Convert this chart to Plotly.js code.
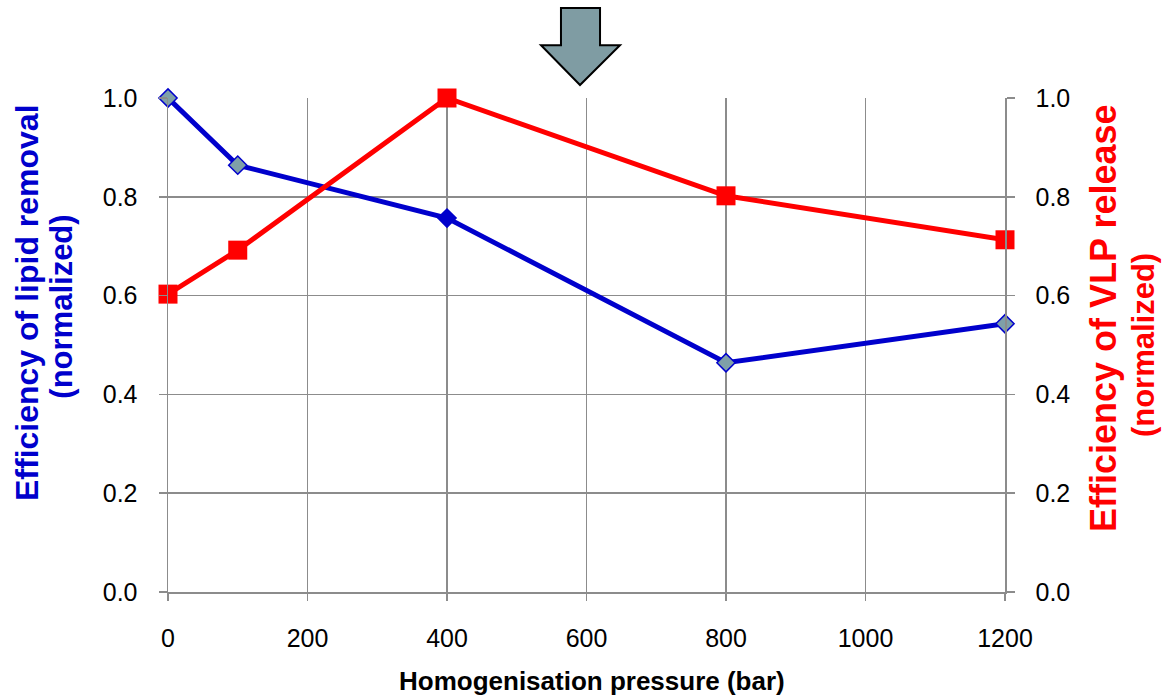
<!DOCTYPE html>
<html><head><meta charset="utf-8">
<script src="https://cdn.plot.ly/plotly-3.0.1.min.js"></script>
<style>html,body{margin:0;padding:0;background:#fff}</style>
</head><body>
<div id="chart" style="width:1168px;height:695px"></div>
<script>
const pressure = [0, 100, 400, 800, 1200];
const lipidRemoval = [1.0, 0.864, 0.757, 0.464, 0.543];
const vlpRelease = [0.603, 0.692, 1.0, 0.802, 0.713];
const yTicks = [0, 0.2, 0.4, 0.6, 0.8, 1.0];
const yTickText = ['0.0', '0.2', '0.4', '0.6', '0.8', '1.0'];
const xTicks = [0, 200, 400, 600, 800, 1000, 1200];
const xTitle = 'Homogenisation pressure (bar)';
const leftTitle = ['Efficiency of lipid removal', '(normalized)'];
const rightTitle = ['Efficiency of VLP release', '(normalized)'];

const font = 'Liberation Sans, Arial, sans-serif';
const BLUE = '#0000CC', RED = '#FF0000', GRID = '#8C8C8C';
const traces = [
  {x: pressure, y: vlpRelease, yaxis: 'y2', type: 'scatter', mode: 'lines+markers',
   line: {color: RED, width: 5}, marker: {symbol: 'square', size: 19, color: RED}, cliponaxis: false},
  {x: pressure, y: lipidRemoval, type: 'scatter', mode: 'lines+markers',
   line: {color: BLUE, width: 5},
   marker: {symbol: 'diamond', size: 14, color: pressure.map((p, i) => i === 2 ? BLUE : '#7FA0A8'), line: {color: BLUE, width: 1.5}}, cliponaxis: false}
];
const yCommon = {range: [0, 1.0], tickvals: yTicks, ticktext: yTickText, zeroline: false,
  showline: true, linecolor: GRID, linewidth: 1.5,
  ticks: 'outside', ticklen: 8, tickcolor: GRID, tickwidth: 1.5, tickfont: {size: 25}, ticklabelstandoff: 16};
const layout = {
  width: 1168, height: 695,
  margin: {l: 168, r: 163, t: 98, b: 103},
  paper_bgcolor: '#fff', plot_bgcolor: '#fff',
  showlegend: false,
  font: {family: font, size: 25, color: '#000'},
  xaxis: {range: [0, 1200], tickvals: xTicks, showgrid: true, gridcolor: GRID, gridwidth: 1.5,
    zeroline: false, showline: true, linecolor: GRID, linewidth: 1.5,
    ticks: 'outside', ticklen: 7, tickcolor: GRID, tickwidth: 1.5,
    tickfont: {size: 25}, ticklabelstandoff: 16},
  yaxis: Object.assign({showgrid: true, gridcolor: GRID, gridwidth: 1.5}, yCommon),
  yaxis2: Object.assign({overlaying: 'y', side: 'right', showgrid: false}, yCommon),
  annotations: [
    {text: '<b>' + xTitle + '</b>', xref: 'paper', yref: 'paper', x: 0.506, y: -0.18, xanchor: 'center', yanchor: 'middle', showarrow: false, font: {size: 26, color: '#000'}},
    {text: '<b>' + leftTitle[0] + '</b>', textangle: -90, xref: 'paper', yref: 'paper', x: -0.1685, y: 0.587, xanchor: 'center', yanchor: 'middle', showarrow: false, font: {size: 32, color: BLUE}},
    {text: '<b>' + leftTitle[1] + '</b>', textangle: -90, xref: 'paper', yref: 'paper', x: -0.127, y: 0.577, xanchor: 'center', yanchor: 'middle', showarrow: false, font: {size: 31, color: BLUE}},
    {text: '<b>' + rightTitle[0] + '</b>', textangle: -90, xref: 'paper', yref: 'paper', x: 1.1183, y: 0.5547, xanchor: 'center', yanchor: 'middle', showarrow: false, font: {size: 36, color: RED}},
    {text: '<b>' + rightTitle[1] + '</b>', textangle: -90, xref: 'paper', yref: 'paper', x: 1.165, y: 0.5, xanchor: 'center', yanchor: 'middle', showarrow: false, font: {size: 31, color: RED}}
  ],
  shapes: [
    {type: 'path', xref: 'x', yref: 'paper', layer: 'above',
     path: 'M 563.4 1.182 L 619.4 1.182 L 619.4 1.107 L 648 1.107 L 590.7 1.0263 L 534.8 1.107 L 563.4 1.107 Z',
     fillcolor: '#7F9CA3', line: {color: '#000', width: 2}}
  ]
};
Plotly.newPlot('chart', traces, layout, {displayModeBar: false, staticPlot: true});
</script>
</body></html>
